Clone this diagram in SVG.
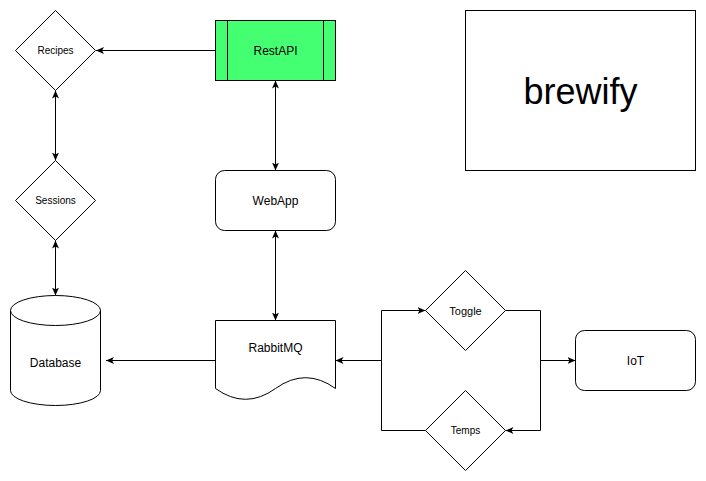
<svg xmlns="http://www.w3.org/2000/svg" width="706" height="481" viewBox="0 0 706 481">
<style>
.s{fill:#fff;stroke:#000;stroke-width:1}
.c{fill:none;stroke:#000;stroke-width:1}
text{font-family:"Liberation Sans",Arial,sans-serif;fill:#000;text-anchor:middle;dominant-baseline:central}
.t10{font-size:10px}.t11{font-size:11px}.t12{font-size:12px}
</style>
<defs>
<marker id="ae" markerUnits="userSpaceOnUse" markerWidth="10" markerHeight="10" refX="8" refY="3.5" orient="auto">
<path d="M0,0 L8,3.5 L0,7 L2,3.5 Z" fill="#000"/>
</marker>
<marker id="as" markerUnits="userSpaceOnUse" markerWidth="10" markerHeight="10" refX="8" refY="3.5" orient="auto-start-reverse">
<path d="M0,0 L8,3.5 L0,7 L2,3.5 Z" fill="#000"/>
</marker>
</defs>
<g id="connectors">
<path class="c" d="M215.5,50.5 L96,50.5" marker-end="url(#ae)"/>
<path class="c" d="M55.5,90.5 L55.5,160.5" marker-start="url(#as)" marker-end="url(#ae)"/>
<path class="c" d="M55.5,240.5 L55.5,295.5" marker-start="url(#as)" marker-end="url(#ae)"/>
<path class="c" d="M275.5,80.5 L275.5,170.5" marker-start="url(#as)" marker-end="url(#ae)"/>
<path class="c" d="M275.5,230.5 L275.5,320.5" marker-start="url(#as)" marker-end="url(#ae)"/>
<path class="c" d="M215.5,360.5 L106,360.5" marker-end="url(#ae)"/>
<path class="c" d="M425.5,430.5 L381.5,430.5 L381.5,360.5 L335.5,360.5" marker-end="url(#ae)"/>
<path class="c" d="M335.5,360.5 L381.5,360.5 L381.5,310.5 L425.5,310.5" marker-end="url(#ae)"/>
<path class="c" d="M505.5,310.5 L540.5,310.5 L540.5,360.5 L575.5,360.5" marker-end="url(#ae)"/>
<path class="c" d="M575.5,360.5 L540.5,360.5 L540.5,430.5 L505.5,430.5" marker-end="url(#ae)"/>
</g>
<g id="recipes">
<path class="s" d="M55.5,10.5 L95.5,50.5 L55.5,90.5 L15.5,50.5 Z"/>
<text class="t10" x="55.5" y="50.5">Recipes</text>
</g>
<g id="sessions">
<path class="s" d="M55.5,160.5 L95.5,200.5 L55.5,240.5 L15.5,200.5 Z"/>
<text class="t10" x="55.5" y="200.5">Sessions</text>
</g>
<g id="restapi">
<rect x="215.5" y="20.5" width="120" height="60" fill="#45FF72" stroke="#000"/>
<path class="c" d="M227.5,20.5 L227.5,80.5 M323.5,20.5 L323.5,80.5"/>
<text class="t12" x="275.5" y="50.5">RestAPI</text>
</g>
<g id="webapp">
<rect class="s" x="215.5" y="170.5" width="120" height="60" rx="9"/>
<text class="t12" x="275.5" y="200.5">WebApp</text>
</g>
<g id="database">
<path class="s" d="M10.5,310.5 A45,15 0 0 1 100.5,310.5 L100.5,390.5 A45,15 0 0 1 10.5,390.5 Z"/>
<path class="c" d="M10.5,310.5 A45,15 0 0 0 100.5,310.5"/>
<text class="t12" x="55.5" y="363">Database</text>
</g>
<g id="rabbitmq">
<path class="s" d="M215.5,320.5 L335.5,320.5 L335.5,388.5 Q305.5,366.9 275.5,388.5 Q245.5,410.1 215.5,388.5 Z"/>
<text class="t12" x="275.5" y="348">RabbitMQ</text>
</g>
<g id="toggle">
<path class="s" d="M465.5,270.5 L505.5,310.5 L465.5,350.5 L425.5,310.5 Z"/>
<text class="t11" x="465.5" y="310.5">Toggle</text>
</g>
<g id="temps">
<path class="s" d="M465.5,390.5 L505.5,430.5 L465.5,470.5 L425.5,430.5 Z"/>
<text class="t10" x="465.5" y="430.5">Temps</text>
</g>
<g id="iot">
<rect class="s" x="575.5" y="330.5" width="120" height="60" rx="9"/>
<text class="t12" x="635.5" y="360.5">IoT</text>
</g>
<g id="brewify">
<rect class="s" x="465.5" y="10.5" width="230" height="160"/>
<text x="580.5" y="91" style="font-size:36px">brewify</text>
</g>
</svg>
